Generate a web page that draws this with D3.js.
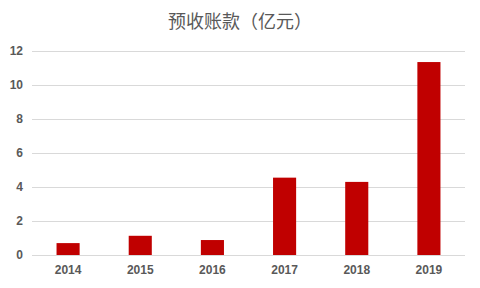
<!DOCTYPE html>
<html>
<head>
<meta charset="utf-8">
<script src="https://cdn.jsdelivr.net/npm/d3@7"></script>
<style>
  body { margin: 0; background: #fff; }
  svg { display: block; }
</style>
</head>
<body>
<svg id="chart" width="480" height="288"></svg>
<script>
const years = ["2014", "2015", "2016", "2017", "2018", "2019"];
const values = [0.7, 1.13, 0.88, 4.55, 4.3, 11.35];
const yTicks = [0, 2, 4, 6, 8, 10, 12];

let svg = d3.select("#chart");
let margin = {top: 51, right: 15, bottom: 33, left: 32};
let width = 480 - margin.left - margin.right;
let height = 288 - margin.top - margin.bottom;

svg.append("text")
    .attr("x", 240)
    .attr("y", 28)
    .attr("text-anchor", "middle")
    .attr("font-family", "'Noto Sans CJK SC', sans-serif")
    .attr("font-size", 18)
    .attr("fill", "#595959")
    .text("预收账款（亿元）");

let g = svg.append("g").attr("transform", "translate(" + margin.left + "," + margin.top + ")");

let x = d3.scaleBand().domain(years).range([0, width]).paddingInner(0.68).paddingOuter(0.34);
let y = d3.scaleLinear().domain([0, 12]).range([height, 0]);

// gridlines
g.append("g")
    .selectAll("line")
    .data(yTicks)
    .enter().append("line")
    .attr("x1", 0)
    .attr("x2", width)
    .attr("y1", d => y(d) + 0.5)
    .attr("y2", d => y(d) + 0.5)
    .attr("stroke", "#d9d9d9")
    .attr("stroke-width", 1);

g.append("g")
    .selectAll("rect")
    .data(years.map((yr, i) => ({year: yr, value: values[i]})))
    .enter().append("rect")
    .attr("x", d => x(d.year))
    .attr("y", d => y(d.value))
    .attr("width", x.bandwidth())
    .attr("height", d => height - y(d.value))
    .attr("fill", "#c00000");

let yAxis = g.append("g")
    .call(d3.axisLeft(y).tickValues(yTicks).tickSize(0).tickPadding(9));
yAxis.select(".domain").remove();
yAxis.selectAll("text")
    .attr("font-family", "'Liberation Sans', Arial, sans-serif")
    .attr("font-size", 12)
    .attr("font-weight", "bold")
    .attr("fill", "#595959");

let xAxis = g.append("g")
    .attr("transform", "translate(0," + height + ")")
    .call(d3.axisBottom(x).tickSize(0).tickPadding(10));
xAxis.select(".domain").remove();
xAxis.selectAll("text")
    .attr("font-family", "'Liberation Sans', Arial, sans-serif")
    .attr("font-size", 12)
    .attr("font-weight", "bold")
    .attr("fill", "#595959");
</script>
</body>
</html>
